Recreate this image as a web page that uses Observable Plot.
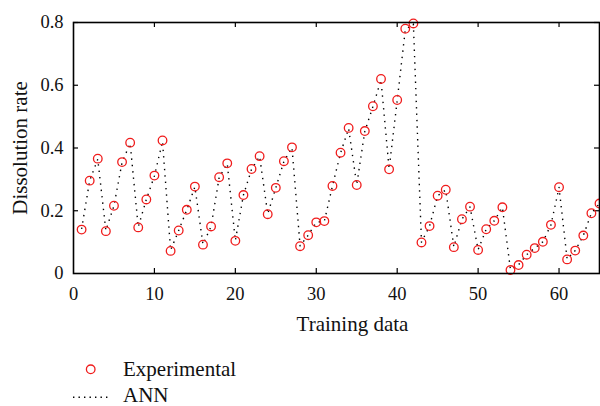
<!DOCTYPE html>
<html>
<head>
<meta charset="utf-8">
<script src="https://cdn.jsdelivr.net/npm/d3@7"></script>
<script src="https://cdn.jsdelivr.net/npm/@observablehq/plot@0.6"></script>
<style>
  html, body { margin: 0; padding: 0; background: #fff; }
  #wrap { position: relative; width: 600px; height: 406px; overflow: hidden; font-family: "Liberation Serif", "DejaVu Serif", serif; }
  #legend { position: absolute; left: 0; top: 340px; }
  svg text { font-family: "Liberation Serif", "DejaVu Serif", serif; }
</style>
</head>
<body>
<div id="wrap"><div id="chart"></div><div id="legend"></div></div>
<script>
const index = d3.range(1, 66);
const experimental = [
  0.140, 0.296, 0.366, 0.135, 0.216, 0.355, 0.417, 0.147, 0.236, 0.312,
  0.424, 0.072, 0.137, 0.203, 0.277, 0.092, 0.150, 0.307, 0.351, 0.104,
  0.250, 0.333, 0.374, 0.189, 0.273, 0.358, 0.402, 0.087, 0.122, 0.163,
  0.167, 0.279, 0.385, 0.464, 0.282, 0.454, 0.533, 0.620, 0.332, 0.553,
  0.780, 0.797, 0.099, 0.151, 0.248, 0.267, 0.084, 0.173, 0.213, 0.075,
  0.141, 0.168, 0.211, 0.011, 0.027, 0.060, 0.081, 0.101, 0.155, 0.275,
  0.045, 0.073, 0.121, 0.192, 0.223
];
const ann = [
  0.142, 0.296, 0.364, 0.137, 0.216, 0.354, 0.415, 0.148, 0.236, 0.311,
  0.421, 0.074, 0.137, 0.203, 0.276, 0.093, 0.150, 0.306, 0.350, 0.105,
  0.250, 0.332, 0.373, 0.190, 0.273, 0.357, 0.401, 0.088, 0.122, 0.163,
  0.167, 0.279, 0.384, 0.462, 0.283, 0.453, 0.532, 0.617, 0.333, 0.551,
  0.777, 0.795, 0.100, 0.151, 0.248, 0.266, 0.085, 0.173, 0.212, 0.076,
  0.141, 0.168, 0.211, 0.012, 0.028, 0.060, 0.081, 0.101, 0.155, 0.274,
  0.046, 0.073, 0.121, 0.192, 0.223
];
const xTicks = [0, 10, 20, 30, 40, 50, 60];
const yTicks = [0, 0.2, 0.4, 0.6, 0.8];
const xLabel = "Training data";
const yLabel = "Dissolution rate";
const legendLabels = ["Experimental", "ANN"];

const expData = index.map((x, i) => ({x, y: experimental[i]}));
const annData = index.map((x, i) => ({x, y: ann[i]}));

const serif = "'Liberation Serif', 'DejaVu Serif', serif";
const red = "#f01c1c";
const tickLen = 5;
const innerH = 251;
const innerW = 526;

const chart = Plot.plot({
  width: 600,
  height: 340,
  marginLeft: 73,
  marginRight: 1,
  marginTop: 22,
  marginBottom: 67,
  style: {fontFamily: serif, background: "#fff", overflow: "visible"},
  x: {domain: [0, 65]},
  y: {domain: [0, 0.8]},
  marks: [
    Plot.axisX(xTicks, {anchor: "bottom", tickSize: 0, tickPadding: 13, fontSize: 18.5, fontFamily: serif, label: null, fill: "#111"}),
    Plot.axisY(yTicks, {anchor: "left", tickSize: 0, tickPadding: 10, fontSize: 18.5, fontFamily: serif, label: null, fill: "#111",
      tickFormat: d => d === 0 ? "0" : d.toFixed(1)}),
    Plot.ruleX(xTicks.slice(1), {x: d => d, insetTop: innerH - tickLen, stroke: "#000", strokeWidth: 1.2}),
    Plot.ruleX(xTicks.slice(1), {x: d => d, insetBottom: innerH - tickLen, stroke: "#000", strokeWidth: 1.2}),
    Plot.ruleY(yTicks.slice(1), {y: d => d, insetRight: innerW - tickLen, stroke: "#000", strokeWidth: 1.2}),
    Plot.ruleY(yTicks.slice(1), {y: d => d, insetLeft: innerW - tickLen, stroke: "#000", strokeWidth: 1.2}),
    Plot.line(annData, {x: "x", y: "y", stroke: "#000", strokeWidth: 1.4, strokeDasharray: "1.4 5", strokeLinecap: "butt"}),
    Plot.dot(expData, {x: "x", y: "y", r: 4.3, stroke: red, strokeWidth: 1.3, fill: "none"}),
    Plot.frame({stroke: "#000", strokeWidth: 1.6}),
    Plot.text([xLabel], {frameAnchor: "bottom", dx: 16, dy: 51, text: d => d, fontSize: 21, fontFamily: serif, lineAnchor: "middle", fill: "#111"}),
    Plot.text([yLabel], {frameAnchor: "left", dx: -53, rotate: -90, text: d => d, fontSize: 21, fontFamily: serif, lineAnchor: "middle", textAnchor: "middle", fill: "#111"})
  ]
});
document.getElementById("chart").appendChild(chart);

// Legend below the chart
const lg = d3.select("#legend").append("svg")
  .attr("width", 600).attr("height", 66)
  .style("font-family", serif);
lg.append("circle").attr("cx", 90.7).attr("cy", 29.3).attr("r", 4.3)
  .attr("fill", "none").attr("stroke", red).attr("stroke-width", 1.3);
lg.append("text").attr("x", 123).attr("y", 36).attr("font-size", 21).attr("fill", "#111").text(legendLabels[0]);
lg.append("line").attr("x1", 73).attr("x2", 108).attr("y1", 57.3).attr("y2", 57.3)
  .attr("stroke", "#000").attr("stroke-width", 1.4).attr("stroke-dasharray", "1.4 4.1");
lg.append("text").attr("x", 123).attr("y", 61.5).attr("font-size", 21).attr("fill", "#111").text(legendLabels[1]);
</script>
</body>
</html>
